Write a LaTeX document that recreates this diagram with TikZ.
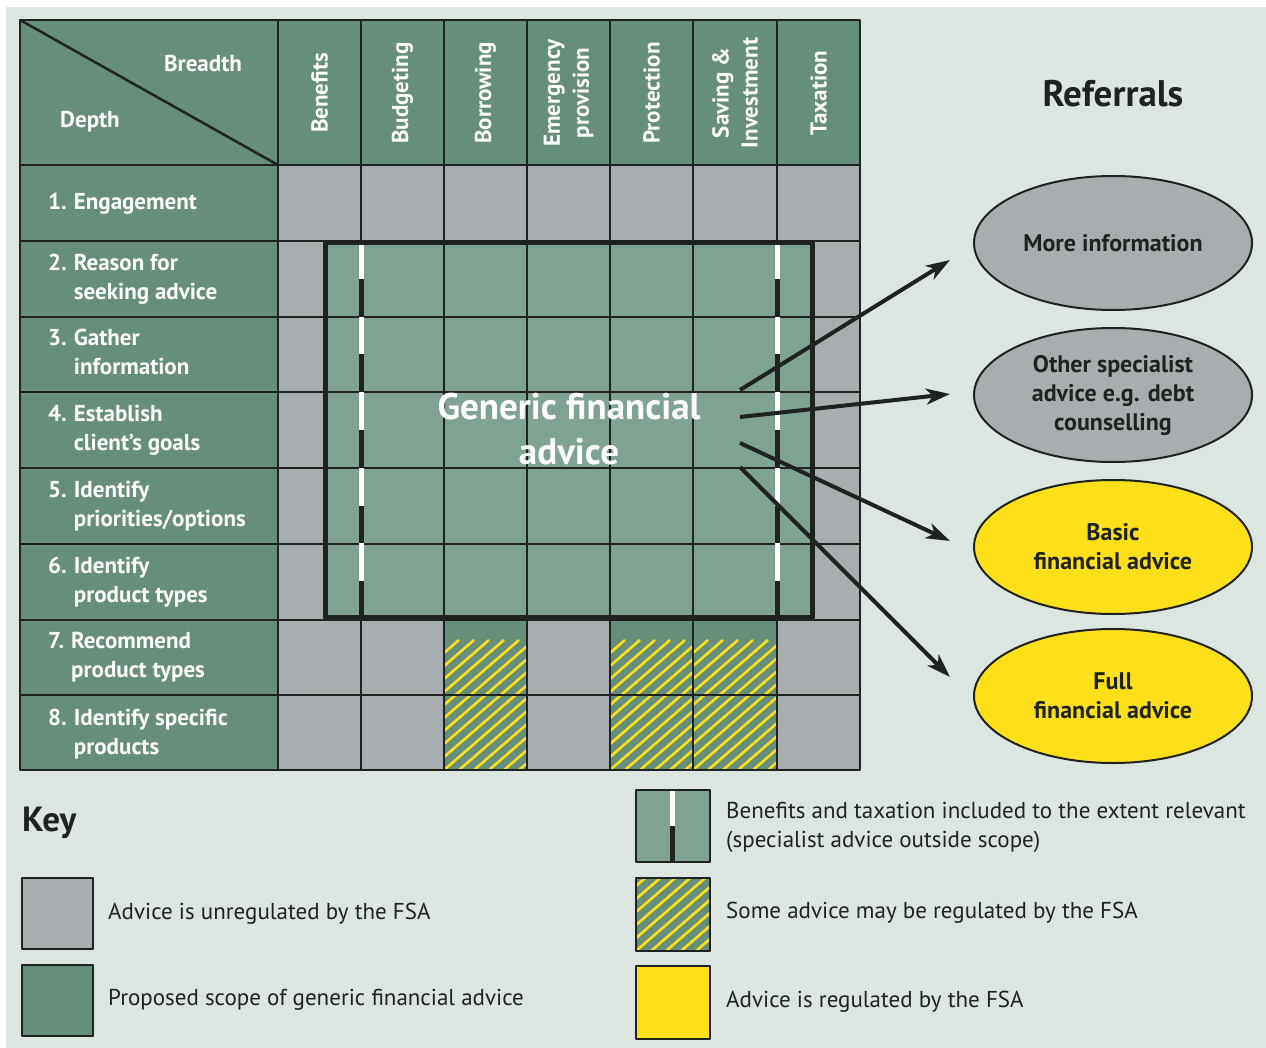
\documentclass[tikz,border=0pt]{standalone}
\usepackage{fontspec}
\setmainfont{PT Sans}
\usetikzlibrary{arrows.meta,shapes.geometric}
\definecolor{bgc}{HTML}{DCE5E0}
\definecolor{hdgreen}{HTML}{668F7B}
\definecolor{scopegreen}{HTML}{7FA393}
\definecolor{unreg}{HTML}{A8AEB0}
\definecolor{yel}{HTML}{FDE01A}
\definecolor{ink}{HTML}{1F221F}
\newcommand{\hatchcell}[4]{% x1,y1,x2,y2
  \begin{scope}
    \clip (#1,#2) rectangle (#3,#4);
    \fill[hdgreen] (#1,#2) rectangle (#3,#4);
    \foreach \k in {0,15,...,270}
      \draw[yel,line width=2.6pt] (#1-150+\k,#4) -- ++(150,-130);
  \end{scope}}
\begin{document}
\begin{tikzpicture}[x=1pt,y=-1pt,>=Stealth,line join=round,
    gridline/.style={draw=ink,line width=1.4pt},
    headtxt/.style={text=white,font=\fontsize{23}{29}\selectfont\bfseries},
    colhead/.style={headtxt,rotate=90,align=center},
    rowhead/.style={headtxt,anchor=west,inner sep=0pt},
    referral/.style={ellipse,draw=ink,line width=2pt,minimum width=278pt,minimum height=134pt,
      text=ink,align=center,font=\fontsize{24}{29}\selectfont\bfseries},
    keybox/.style={draw=ink,line width=2.5pt},
    keytxt/.style={anchor=west,text=ink,inner sep=0pt,align=left,font=\fontsize{23}{29}\selectfont},
    refarrow/.style={->,draw=ink,line width=4pt,arrows={-Stealth[length=24pt,width=16pt,inset=7pt]}}]
  \useasboundingbox (0,0) rectangle (1266,1048);
  % background
  \fill[white] (0,0) rectangle (1266,1048);
  \fill[bgc] (6,7) rectangle (1266,1048);
  % table fills
  \fill[hdgreen] (20,20) rectangle (860,165);
  \fill[hdgreen] (20,165) rectangle (278,770);
  \fill[unreg] (278,165) rectangle (860,770);
  \hatchcell{444}{620}{527}{770}
  \hatchcell{610}{620}{693}{770}
  \hatchcell{693}{620}{777}{770}
  \fill[scopegreen] (325,243) rectangle (812,617);
  % grid
  \foreach \x in {278,444,527,610,693,860}
    \draw[gridline] (\x,20) -- (\x,770);
  \foreach \x in {361,777} {
    \draw[gridline] (\x,20) -- (\x,243);
    \draw[gridline] (\x,617) -- (\x,770);
  }
  \foreach \y in {165,241,317,392,468,544,620,695}
    \draw[gridline] (20,\y) -- (860,\y);
  % benefits and taxation edges
  \foreach \x in {361,777} {
    \draw[white,line width=5pt] (\x,243) -- (\x,617);
    \draw[ink,line width=5pt,dash pattern=on 37.8pt off 37.8pt,dash phase=37.8pt] (\x,241) -- (\x,617);
  }
  \draw[ink,line width=5pt] (325,243) rectangle (812,617);
  \draw[ink,line width=2pt] (20,20) rectangle (860,770);
  \draw[ink,line width=2.5pt] (20,20) -- (278,165);
  % headings
  \node[headtxt] (breadth) at (203,63) {Breadth};
  \node[headtxt] (depth) at (90,122) {Depth};
  \node[colhead] (c1) at (319.5,93) {Benefits};
  \node[colhead] (c2) at (402.5,93) {Budgeting};
  \node[colhead] (c3) at (485.5,93) {Borrowing};
  \node[colhead] (c4) at (568.5,93) {Emergency\\provision};
  \node[colhead] (c5) at (651.5,93) {Protection};
  \node[colhead] (c6) at (735,93) {Saving \&\\Investment};
  \node[colhead] (c7) at (818.5,93) {Taxation};
  \node[rowhead] (r1) at (48,204) {\begin{tabular}{@{}l@{\hspace{7pt}}l@{}}1.&Engagement\end{tabular}};
  \node[rowhead] (r2) at (48,279) {\begin{tabular}{@{}l@{\hspace{7pt}}l@{}}2.&Reason for\\&seeking advice\end{tabular}};
  \node[rowhead] (r3) at (48,354) {\begin{tabular}{@{}l@{\hspace{7pt}}l@{}}3.&Gather\\&information\end{tabular}};
  \node[rowhead] (r4) at (48,430) {\begin{tabular}{@{}l@{\hspace{7pt}}l@{}}4.&Establish\\&client’s goals\end{tabular}};
  \node[rowhead] (r5) at (48,506) {\begin{tabular}{@{}l@{\hspace{7pt}}l@{}}5.&Identify\\&priorities/options\end{tabular}};
  \node[rowhead] (r6) at (48,582) {\begin{tabular}{@{}l@{\hspace{7pt}}l@{}}6.&Identify\\&product types\end{tabular}};
  \node[rowhead] (r7) at (48,657) {\begin{tabular}{@{}l@{\hspace{7pt}}l@{}}7.&Recommend\\&product types\end{tabular}};
  \node[rowhead] (r8) at (48,734) {\begin{tabular}{@{}l@{\hspace{7pt}}l@{}}8.&Identify specific\\&products\end{tabular}};
  \node[text=white,align=center,font=\fontsize{37}{45}\selectfont\bfseries] (gfa) at (569,429) {Generic financial\\advice};
  % referrals
  \node[text=ink,font=\fontsize{37}{40}\selectfont\bfseries] (referrals) at (1113,94) {Referrals};
  \node[referral,fill=unreg] (more) at (1113,243) {More information};
  \node[referral,fill=unreg] (other) at (1113,395) {Other specialist\\advice e.g. debt\\counselling};
  \node[referral,fill=yel] (basic) at (1113,547) {Basic\\financial advice};
  \node[referral,fill=yel] (full) at (1113,696) {Full\\financial advice};
  \coordinate (s1) at (740,390); \coordinate (e1) at (950,260);
  \coordinate (s2) at (740,417); \coordinate (e2) at (950,394);
  \coordinate (s3) at (740,443); \coordinate (e3) at (950,541);
  \coordinate (s4) at (740,467); \coordinate (e4) at (950,677);
  \draw[refarrow] (s1) -- (e1);
  \draw[refarrow] (s2) -- (e2);
  \draw[refarrow] (s3) -- (e3);
  \draw[refarrow] (s4) -- (e4);
  % key
  \node[anchor=west,inner sep=0pt,text=ink,font=\fontsize{35}{40}\selectfont\bfseries] (key) at (22,823) {Key};
  \draw[keybox,fill=unreg] (22,878) rectangle (93,949);
  \node[keytxt] (kunreg) at (108,914) {Advice is unregulated by the FSA};
  \draw[keybox,fill=hdgreen] (22,965) rectangle (93,1036);
  \node[keytxt] (kscope) at (108,1000) {Proposed scope of generic financial advice};
  \fill[scopegreen] (636,790) rectangle (710,862);
  \draw[white,line width=5pt] (672,790) -- (672,826);
  \draw[ink,line width=5pt] (672,826) -- (672,862);
  \draw[keybox] (636,790) rectangle (710,862);
  \node[keytxt] (kedge) at (726,827) {Benefits and taxation included to the extent relevant\\(specialist advice outside scope)};
  \hatchcell{636}{878}{710}{951}
  \draw[keybox] (636,878) rectangle (710,951);
  \node[keytxt] (ksome) at (726,913) {Some advice may be regulated by the FSA};
  \draw[keybox,fill=yel] (636,966) rectangle (710,1039);
  \node[keytxt] (kreg) at (726,1002) {Advice is regulated by the FSA};
\end{tikzpicture}
\end{document}
